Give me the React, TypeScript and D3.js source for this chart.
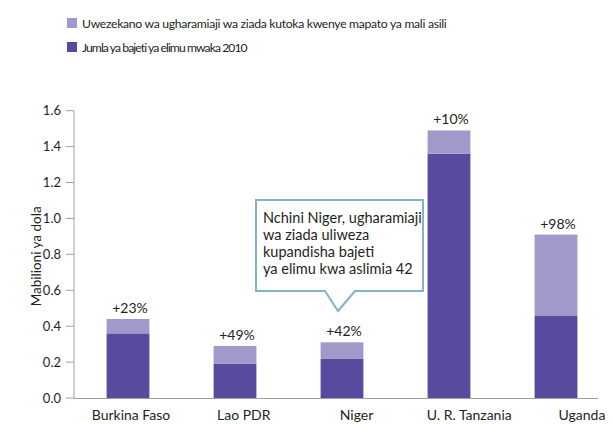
import React from "react";
import * as d3 from "d3";

const categories = ["Burkina Faso", "Lao PDR", "Niger", "U. R. Tanzania", "Uganda"];
const budget2010 = [0.36, 0.19, 0.22, 1.36, 0.46];
const extraFunding = [0.08, 0.1, 0.09, 0.13, 0.45];
const pctLabels = ["+23%", "+49%", "+42%", "+10%", "+98%"];
const yTicks = [0, 0.2, 0.4, 0.6, 0.8, 1.0, 1.2, 1.4, 1.6];
const legendLabels = [
  "Uwezekano wa ugharamiaji wa ziada kutoka kwenye mapato ya mali asili",
  "Jumla ya bajeti ya elimu mwaka 2010",
];
const calloutLines = [
  "Nchini Niger, ugharamiaji",
  "wa ziada uliweza",
  "kupandisha bajeti",
  "ya elimu kwa aslimia 42",
];
const yTitle = "Mabilioni ya dola";

const DARK = "#584a9e";
const LIGHT = "#a298c9";
const TEXT = "#231f20";
const AXIS = "#a0a0a0";
const CALLOUT = "#86b3c3";
const FONT = "Lato, 'Open Sans', sans-serif";

export default function App() {
  const W = 612, H = 424;
  const x = d3.scaleBand<string>().domain(categories).range([74.5, 609.5]).paddingInner(0.6).paddingOuter(0.3);
  const xLab = d3.scalePoint<string>().domain(categories).range([131, 582]);
  const y = d3.scaleLinear().domain([0, 1.6]).range([398, 110.7]);
  const fmt = d3.format(".1f");
  const axisX = 74;

  const nigerCx = (x("Niger") as number) + x.bandwidth() / 2;
  const bx0 = 256, bx1 = 423, by0 = 200, by1 = 291;
  const tipX = nigerCx - 4, tipY = 311;
  const calloutPath = [
    [bx0, by0], [bx1, by0], [bx1, by1], [tipX + 17, by1], [tipX, tipY], [tipX - 13, by1], [bx0, by1],
  ];

  return (
    <svg width={W} height={H} style={{ position: "absolute", left: 0, top: 0 }} fontFamily={FONT}>
      <rect width={W} height={H} fill="#fff" />
      <rect x={67} y={18} width={10} height={10} fill={LIGHT} />
      <text x={82} y={28} fontSize={12.2} fill={TEXT} letterSpacing={-0.3}>{legendLabels[0]}</text>
      <rect x={67} y={42} width={10} height={10} fill={DARK} />
      <text x={82} y={52} fontSize={12.2} fill={TEXT} letterSpacing={-0.95}>{legendLabels[1]}</text>

      <line x1={axisX} x2={axisX} y1={y(1.6)} y2={y(0)} stroke={AXIS} strokeWidth={1} />
      {yTicks.map((t) => (
        <g key={t}>
          <line x1={axisX - 8} x2={axisX} y1={y(t)} y2={y(t)} stroke={AXIS} />
          <text x={61} y={y(t)} dy="0.35em" textAnchor="end" fontSize={13} fill={TEXT}>{fmt(t)}</text>
        </g>
      ))}
      <text transform={`translate(41,${(y(0) + y(1.6)) / 2 + 2}) rotate(-90)`} textAnchor="middle" fontSize={13.5} fill={TEXT}>
        {yTitle}
      </text>

      {categories.map((c, i) => {
        const bx = x(c) as number;
        const top = y(budget2010[i] + extraFunding[i]);
        return (
          <g key={c}>
            <rect x={bx} y={y(budget2010[i])} width={x.bandwidth()} height={y(0) - y(budget2010[i])} fill={DARK} />
            <rect x={bx} y={top} width={x.bandwidth()} height={y(budget2010[i]) - top} fill={LIGHT} />
            <text x={bx + x.bandwidth() / 2 + 2} y={top - 6} textAnchor="middle" fontSize={14} fill={TEXT}>{pctLabels[i]}</text>
            <text x={xLab(c) as number} y={420} textAnchor="middle" fontSize={14} fill={TEXT}>{c}</text>
          </g>
        );
      })}

      <line x1={axisX} x2={598} y1={398.5} y2={398.5} stroke={AXIS} strokeWidth={1} />

      <path d={d3.line()(calloutPath as [number, number][]) + "Z"} fill="#fff" stroke={CALLOUT} strokeWidth={2} strokeLinejoin="miter" />
      {calloutLines.map((l, i) => (
        <text key={i} x={263} y={223 + i * 17} fontSize={14.5} fill={TEXT}>{l}</text>
      ))}
    </svg>
  );
}
